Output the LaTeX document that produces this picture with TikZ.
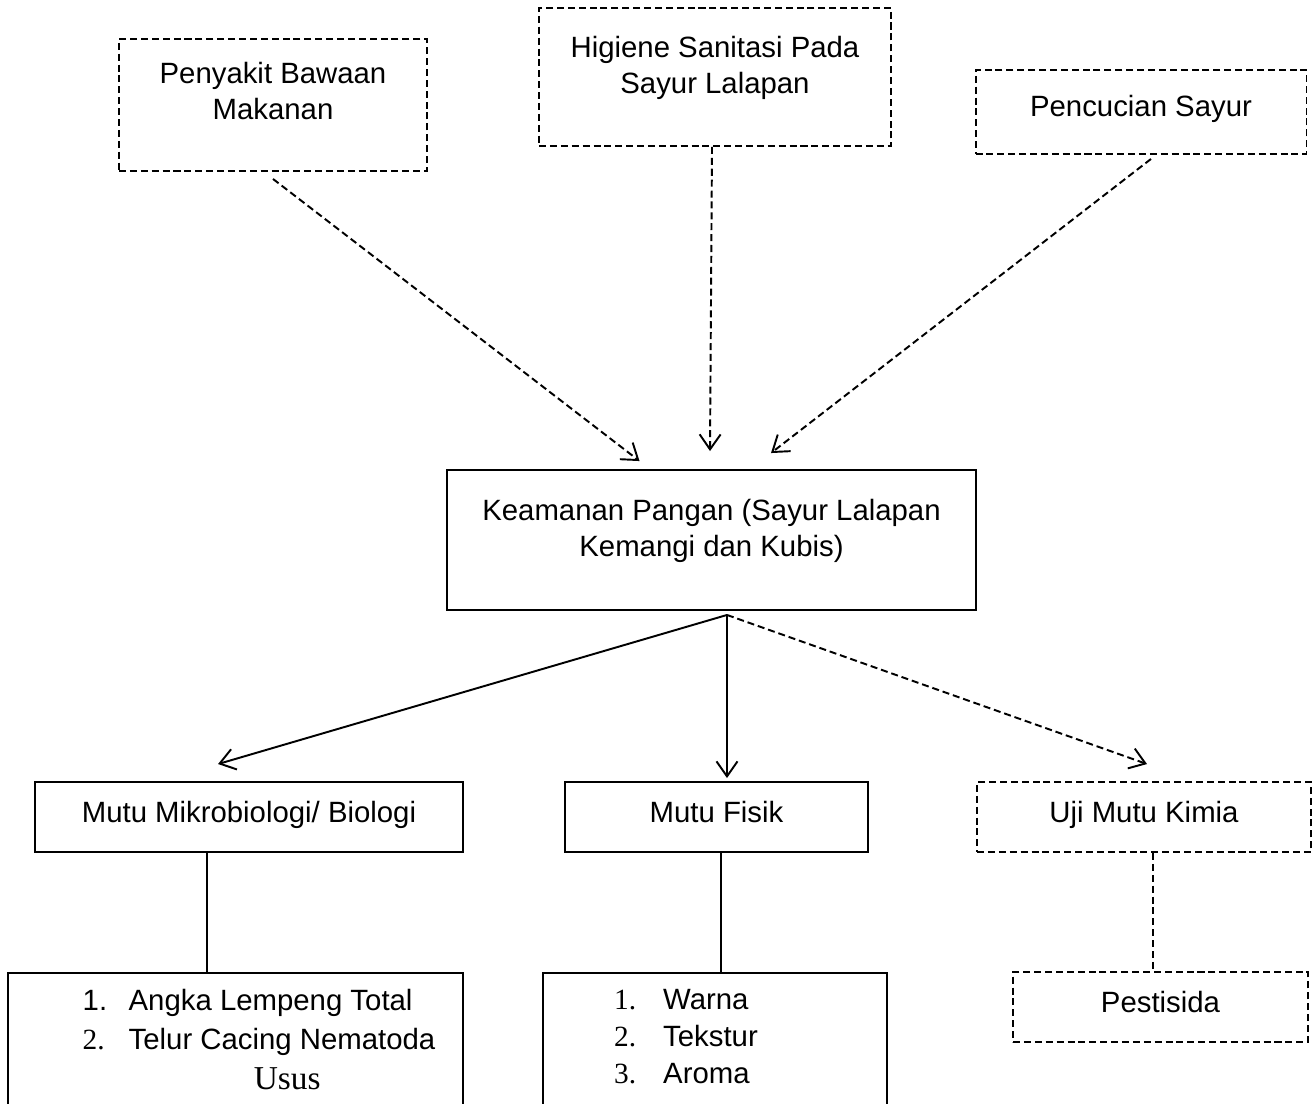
\documentclass[tikz,border=0pt]{standalone}
\usepackage{fontspec}
\setmainfont{Liberation Sans}
\newfontfamily\tnr{Liberation Serif}
\usetikzlibrary{arrows.meta, positioning}
\tikzstyle{factor} = [rectangle, draw, line width=1.1pt, dash pattern=on 4pt off 2.2pt, text centered, align=center]
\tikzstyle{quality} = [rectangle, draw, line width=1.1pt, text centered, align=center]
\tikzstyle{link} = [line width=1.1pt, -{Straight Barb[length=0.3cm,width=0.42cm]}]
\tikzstyle{dlink} = [link, dash pattern=on 4pt off 2.2pt]
\tikzstyle{stem} = [line width=1.1pt]

\begin{document}
\begin{tikzpicture}[x=0.02cm, y=-0.02cm, font=\fontsize{16.7}{20.5}\selectfont]
\useasboundingbox (0,0) rectangle (1315,1103);
\clip (0,0) rectangle (1315,1103);
%Factors
\node (pbm) [factor, minimum width=6.16cm, minimum height=2.64cm, text depth=16pt] at (273,105) {Penyakit Bawaan\\Makanan};
\node (hsp) [factor, minimum width=7.04cm, minimum height=2.76cm, text depth=14pt] at (715,77) {Higiene Sanitasi Pada\\Sayur Lalapan};
\node (pcs) [factor, minimum width=6.62cm, minimum height=1.68cm, text depth=7pt] at (1141,112) {Pencucian Sayur};
\node (kp) [quality, minimum width=10.58cm, minimum height=2.8cm, text depth=14pt] at (711.5,540) {Keamanan Pangan (Sayur Lalapan\\Kemangi dan Kubis)};
%Quality
\node (mmb) [quality, minimum width=8.56cm, minimum height=1.4cm, text depth=5.5pt] at (249,817) {Mutu Mikrobiologi/ Biologi};
\node (mf) [quality, minimum width=6.06cm, minimum height=1.4cm, text depth=5.5pt] at (716.5,817) {Mutu Fisik};
\node (umk) [factor, minimum width=6.68cm, minimum height=1.4cm, text depth=5.5pt] at (1144,817) {Uji Mutu Kimia};
\node (mmbl) [quality, minimum width=9.1cm, minimum height=2.76cm, font=\fontsize{16.7}{22.7}\selectfont] at (235.5,1042) {\begin{tabular}{@{\hspace{0.94cm}}p{0.92cm}@{}l@{}}
1. & Angka Lempeng Total\\
{\tnr 2.} & Telur Cacing Nematoda\\
 & \multicolumn{1}{c@{}}{\tnr\fontsize{19}{22.7}\selectfont Usus}
\end{tabular}};
\node (mfl) [quality, minimum width=6.88cm, minimum height=2.64cm, font=\fontsize{16.7}{21.3}\selectfont] at (715,1039) {\begin{tabular}{@{}p{0.98cm}@{}l@{\hspace{1.16cm}}}
{\tnr 1.} & Warna\\
{\tnr 2.} & Tekstur\\
{\tnr 3.} & Aroma
\end{tabular}};
\node (pst) [factor, minimum width=5.9cm, minimum height=1.4cm, text depth=5.5pt] at (1160.5,1007) {Pestisida};
\coordinate (kpo) at ([xshift=0.31cm,yshift=-0.08cm]kp.south);
\draw [dlink] ([yshift=-0.14cm]pbm.south) -- ([xshift=-1.44cm,yshift=0.16cm]kp.north);
\draw [dlink] ([xshift=-0.06cm]hsp.south) -- ([xshift=-0.03cm,yshift=0.36cm]kp.north);
\draw [dlink] ([xshift=0.2cm,yshift=-0.08cm]pcs.south) -- ([xshift=1.19cm,yshift=0.32cm]kp.north);
\draw [link] (kpo) -- ([xshift=-0.62cm,yshift=0.34cm]mmb.north);
\draw [link] (kpo) -- ([xshift=0.21cm,yshift=0.06cm]mf.north);
\draw [dlink] (kpo) -- ([xshift=0.06cm,yshift=0.34cm]umk.north);
\draw [stem] ([xshift=-0.84cm]mmb.south) -- ([xshift=-0.84cm]mmb.south |- mmbl.north);
\draw [stem] ([xshift=0.09cm]mf.south) -- ([xshift=0.09cm]mf.south |- mfl.north);
\draw [stem, dash pattern=on 4pt off 2.2pt] ([xshift=0.18cm]umk.south) -- ([xshift=0.18cm]umk.south |- pst.north);
\end{tikzpicture}
\end{document}
